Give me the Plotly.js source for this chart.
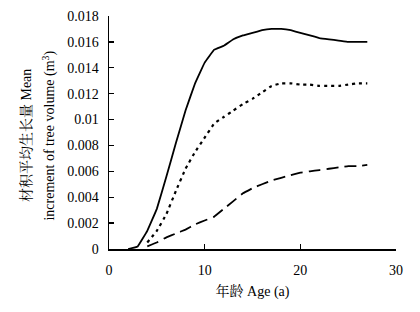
<!DOCTYPE html>
<html>
<head>
<meta charset="utf-8">
<script src="https://cdn.plot.ly/plotly-3.0.1.min.js"></script>
<style>html,body{margin:0;padding:0;background:#fff;}#chart{width:420px;height:312px;}</style>
</head>
<body>
<div id="chart"></div>
<script>
const agesSolid = [2,3,4,5,6,7,8,9,10,11,12,13,14,15,16,17,18,19,20,21,22,23,24,25,26,27];
const solidVals = [0,0.0002,0.0014,0.0031,0.0056,0.0082,0.0107,0.0128,0.0144,0.0154,0.0157,0.0162,0.0165,0.0167,0.0169,0.0170,0.0170,0.0169,0.0167,0.0165,0.0163,0.0162,0.0161,0.0160,0.0160,0.0160];
const agesDot = [4,5,6,7,8,9,10,11,12,13,14,15,16,17,18,19,20,21,22,23,24,25,26,27];
const dotVals = [0.0005,0.0014,0.0027,0.0045,0.0062,0.0075,0.0086,0.0097,0.0102,0.0107,0.0112,0.0116,0.0121,0.0126,0.0128,0.0128,0.0127,0.0127,0.0126,0.0126,0.0126,0.0127,0.0128,0.0128];
const agesDash = [4,5,6,7,8,9,10,11,12,13,14,15,16,17,18,19,20,21,22,23,24,25,26,27];
const dashVals = [0.0002,0.0005,0.0009,0.0012,0.0015,0.0019,0.0022,0.0025,0.0031,0.0037,0.0043,0.0047,0.0050,0.0053,0.0055,0.0057,0.0059,0.0060,0.0061,0.0062,0.0063,0.0064,0.0064,0.0065];
const yTickVals = [0,0.002,0.004,0.006,0.008,0.01,0.012,0.014,0.016,0.018];
const yTickText = ['0','0.002','0.004','0.006','0.008','0.01','0.012','0.014','0.016','0.018'];
const xTickVals = [0,10,20,30];
const xTickText = ['0','10','20','30'];
const yTitleLines = ['材积平均生长量 Mean', 'increment of tree volume (m<sup>3</sup>)'];

const serif = 'Liberation Serif, Times New Roman, Noto Serif CJK SC, Noto Sans CJK SC, serif';
const traces = [
  {x: agesSolid, y: solidVals, mode:'lines', line:{color:'#000', width:1.8, shape:'spline', smoothing:0.15}, hoverinfo:'skip'},
  {x: agesDot, y: dotVals, mode:'lines', line:{color:'#000', width:2.2, dash:'3px,4px', shape:'spline', smoothing:0.15}, hoverinfo:'skip'},
  {x: agesDash, y: dashVals, mode:'lines', line:{color:'#000', width:1.8, dash:'12px,6px', shape:'spline', smoothing:0.15}, hoverinfo:'skip'}
];
const layout = {
  width:420, height:312,
  margin:{l:109, r:24, t:16, b:63},
  showlegend:false,
  paper_bgcolor:'#fff', plot_bgcolor:'#fff',
  font:{family:serif, size:13, color:'#000'},
  xaxis:{
    range:[0,30], tickvals:xTickVals, ticktext:xTickText,
    ticks:'inside', ticklen:5, tickwidth:1.3, tickcolor:'#000',
    showline:true, linecolor:'#000', linewidth:1.5, showgrid:false, zeroline:false,
    tickfont:{family:serif, size:14}, ticklabelstandoff:8,
    title:{text:'年龄 Age (a)', font:{family:serif, size:14}, standoff:9}
  },
  yaxis:{
    range:[0,0.018], tickvals:yTickVals, ticktext:yTickText,
    ticks:'inside', ticklen:5, tickwidth:1.3, tickcolor:'#000',
    showline:true, linecolor:'#000', linewidth:1.5, showgrid:false, zeroline:false,
    tickfont:{family:serif, size:14}, ticklabelstandoff:6
  },
  annotations:[
    {text:yTitleLines[0], xref:'paper', yref:'paper', x:-0.289, y:0.485, textangle:-90, showarrow:false, xanchor:'center', yanchor:'middle', font:{family:serif, size:14}},
    {text:yTitleLines[1], xref:'paper', yref:'paper', x:-0.207, y:0.485, textangle:-90, showarrow:false, xanchor:'center', yanchor:'middle', font:{family:serif, size:14}}
  ]
};
Plotly.newPlot('chart', traces, layout, {staticPlot:true, displayModeBar:false});
</script>
</body>
</html>
